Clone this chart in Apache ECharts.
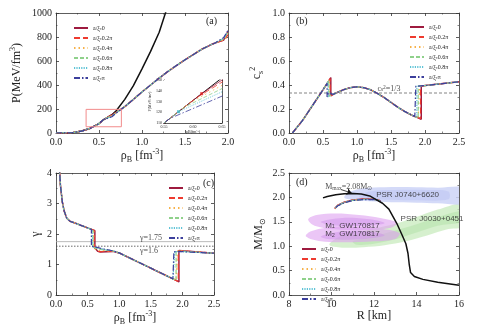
<!DOCTYPE html>
<html><head><meta charset="utf-8">
<script src="https://cdn.jsdelivr.net/npm/echarts@6/dist/echarts.min.js"></script>
<style>html,body{margin:0;padding:0;background:#fff}#c{width:496px;height:334px}</style>
</head><body><div id="c"></div>
<script>
// ---------- DATA ----------
const NAMES = ['a/ξc=0','a/ξc=0.2π','a/ξc=0.4π','a/ξc=0.6π','a/ξc=0.8π','a/ξc=π'];
const COLORS = ['#9e1b3f','#ee3b2f','#f7b24a','#8fd18b','#5ec3d6','#3c3f9c'];
const DASHES = ['solid',[6,3],[1.5,3],[4,2],[1.2,1.2],[6,2,1.5,2]];

// (a) pressure vs density
const aLow = [[0,0],[0.1,0.6],[0.2,4],[0.3,16],[0.4,40],[0.5,78],[0.55,110]];
const aMid = [
  [[0.6,131],[0.615,137.3],[0.65,150],[0.7,172]],
  [[0.6,131],[0.605,133.1],[0.65,148],[0.7,171]],
  [[0.595,128.9],[0.65,145],[0.7,170]],
  [[0.585,124.7],[0.65,142],[0.7,169]],
  [[0.575,120.5],[0.65,139],[0.7,168]],
  [[0.56,114.2],[0.65,135],[0.7,166]]
];
const aHigh = [[0.8,220],[0.9,280],[1.0,342],[1.1,400],[1.2,458],[1.3,512],[1.4,562],[1.5,610],[1.6,655],[1.7,700],[1.8,735],[1.85,750]];
const aEnd = [
  [[1.9,762],[1.95,775],[1.97,790],[2.0,850]],
  [[1.9,763],[1.94,772],[1.97,785],[2.0,820]],
  [[1.9,765],[1.93,772],[1.97,790],[2.0,835]],
  [[1.9,768],[1.95,785],[2.0,840]],
  [[1.88,762],[1.95,790],[2.0,845]],
  [[1.87,760],[1.95,795],[2.0,855]]
];
const aBlack = [[0,0],[0.1,0.6],[0.2,4],[0.3,16],[0.4,40],[0.5,78],[0.55,110],[0.6,131],[0.65,152],[0.7,185],[0.8,280],[0.9,395],[1.0,535],[1.1,680],[1.2,840],[1.3,1060]];
const aBox = [[0.35,52],[0.76,52],[0.76,197],[0.35,197],[0.35,52]];
const insetMarks = [[0.615,137.3],[0.575,120.5]];

// (b) sound speed squared
const bRise = [[0.05,0],[0.1,0.035],[0.2,0.105],[0.3,0.19],[0.4,0.275],[0.5,0.36]];
const bJump1 = [
  [[0.615,0.462],[0.615,0.31],[0.65,0.322]],
  [[0.605,0.453],[0.605,0.31],[0.65,0.322]],
  [[0.595,0.445],[0.595,0.31],[0.65,0.322]],
  [[0.585,0.436],[0.585,0.305],[0.62,0.315],[0.65,0.322]],
  [[0.575,0.427],[0.575,0.30],[0.6,0.33],[0.62,0.315],[0.65,0.322]],
  [[0.56,0.414],[0.56,0.30],[0.58,0.335],[0.6,0.32],[0.65,0.322]]
];
const bMid = [[0.7,0.335],[0.8,0.36],[0.9,0.378],[1.0,0.385],[1.1,0.378],[1.2,0.36],[1.3,0.33],[1.4,0.295],[1.5,0.255],[1.6,0.215],[1.7,0.18],[1.8,0.15],[1.85,0.138]];
const bJump2 = [
  [[1.9,0.127],[1.945,0.115],[1.945,0.39],[2.0,0.395]],
  [[1.9,0.127],[1.935,0.12],[1.935,0.39],[2.0,0.395]],
  [[1.9,0.127],[1.92,0.123],[1.92,0.39],[2.0,0.395]],
  [[1.9,0.127],[1.9,0.39],[2.0,0.395]],
  [[1.88,0.131],[1.88,0.39],[2.0,0.395]],
  [[1.865,0.134],[1.865,0.39],[2.0,0.395]]
];
const bTail = [[2.5,0.427]];
const bConformal = [[0,1/3],[2.5,1/3]];

// (c) polytropic index
const cHead = [[0.05,4.3],[0.07,3.6],[0.1,3.05],[0.13,2.75],[0.17,2.52],[0.22,2.42],[0.3,2.36],[0.4,2.28],[0.5,2.2]];
const cJump1 = [
  [[0.615,2.11],[0.615,1.55],[0.66,1.43],[0.7,1.41],[0.8,1.42],[0.9,1.43]],
  [[0.605,2.12],[0.605,1.55],[0.65,1.44],[0.7,1.42],[0.8,1.43],[0.9,1.43]],
  [[0.595,2.12],[0.595,1.56],[0.65,1.47],[0.75,1.46],[0.9,1.44]],
  [[0.585,2.13],[0.585,1.57],[0.65,1.52],[0.75,1.48],[0.9,1.45]],
  [[0.575,2.14],[0.575,1.58],[0.65,1.55],[0.75,1.5],[0.9,1.45]],
  [[0.56,2.15],[0.56,1.6],[0.65,1.56],[0.75,1.51],[0.9,1.45]]
];
const cMid = [[1.0,1.38],[1.1,1.28],[1.2,1.18],[1.3,1.08],[1.4,0.98],[1.5,0.88],[1.6,0.78],[1.7,0.68],[1.8,0.58],[1.85,0.53]];
const cJump2 = [
  [[1.9,0.48],[1.945,0.43],[1.945,1.46],[2.0,1.45]],
  [[1.9,0.48],[1.935,0.44],[1.935,1.45],[2.0,1.45]],
  [[1.9,0.48],[1.92,0.46],[1.92,1.44],[2.0,1.44]],
  [[1.9,0.48],[1.9,1.43],[2.0,1.43]],
  [[1.88,0.5],[1.88,1.42],[2.0,1.42]],
  [[1.865,0.515],[1.865,1.42],[2.0,1.42]]
];
const cTail = [[2.5,1.37]];
const cLine175 = [[0,1.75],[2.5,1.75]];
const cLine16 = [[0,1.6],[2.5,1.6]];

// (d) mass-radius
const dBlack = [[9.6,1.99],[9.8,2.02],[10.2,2.055],[10.6,2.075],[11.0,2.08],[11.4,2.07],[11.8,2.03],[12.0,1.98],[12.4,1.88],[12.7,1.76],[13.07,1.47],[13.3,1.25],[13.5,1.05],[13.6,0.85],[13.66,0.62],[13.72,0.46],[13.9,0.38],[14.3,0.32],[15.0,0.26],[15.5,0.23],[16.0,0.2]];
const dColor = [
  [[10.15,1.77],[10.3,1.84],[10.6,1.9],[11.0,1.945],[11.5,1.965],[12.0,1.96],[12.3,1.93]],
  [[10.16,1.775],[10.3,1.84],[10.6,1.9],[11.0,1.945],[11.5,1.963],[12.0,1.96],[12.3,1.93]],
  [[10.17,1.78],[10.3,1.84],[10.6,1.9],[11.0,1.943],[11.5,1.962],[12.0,1.958],[12.3,1.93]],
  [[10.18,1.78],[10.3,1.835],[10.6,1.895],[11.0,1.94],[11.5,1.96],[12.0,1.958],[12.3,1.93]],
  [[10.19,1.785],[10.3,1.835],[10.6,1.895],[11.0,1.94],[11.5,1.958],[12.0,1.955],[12.3,1.93]],
  [[10.2,1.79],[10.3,1.83],[10.6,1.89],[11.0,1.935],[11.5,1.955],[12.0,1.955],[12.3,1.93]]
];
const J0740outer = [[10.6,2.0],[10.9,2.12],[11.5,2.19],[12.5,2.21],[14,2.21],[15,2.2],[16.3,2.19],[16.3,1.88],[15,1.88],[14,1.89],[12.8,1.9],[11.8,1.92],[11.0,1.95]];
const J0740inner = [[11.3,2.02],[11.8,2.12],[13,2.15],[14.5,2.15],[15.5,2.12],[15.5,1.96],[14,1.94],[12.5,1.95],[11.6,1.97]];
const J0030outer = [[9.9,1.03],[10.3,1.18],[11,1.27],[12,1.36],[13,1.46],[14,1.6],[15,1.75],[16.3,1.86],[16.3,1.42],[15.5,1.35],[14.5,1.22],[13.5,1.1],[12.5,1.02],[11.5,0.98],[10.5,0.97]];
const J0030inner = [[11,1.1],[12,1.2],[13,1.32],[14,1.45],[15,1.6],[16.3,1.72],[16.3,1.52],[15,1.42],[14,1.28],[13,1.14],[12,1.05],[11.2,1.03]];
const GW1outer = [[8.9,1.55],[9.3,1.64],[10.2,1.67],[11.3,1.64],[12.3,1.58],[13.1,1.48],[12.8,1.38],[11.5,1.33],[10.3,1.34],[9.2,1.42]];
const GW2outer = [[8.8,1.2],[9.0,1.3],[9.8,1.38],[11.0,1.4],[12.3,1.36],[13.2,1.27],[13.0,1.15],[12.0,1.1],[10.6,1.08],[9.5,1.1]];
const GW1inner = [[9.5,1.5],[10.5,1.58],[11.8,1.55],[12.5,1.47],[11.5,1.42],[10,1.43]];
const GW2inner = [[9.5,1.2],[10.5,1.3],[11.8,1.3],[12.5,1.22],[11.5,1.15],[10,1.14]];
const dArrow = [[10.45,2.16],[10.95,2.09]];

// tick ranges
const XA = [0,2,0.5], YA = [0,1000,200];
const XB = [0,2.5,0.5], YB = [0,1,0.2];
const XC = [0,2.5,0.5], YC = [0,4,1];
const XD = [8,16,2], YD = [0,2.5,0.5];
const XI = [0.55,0.65,0.05], YI = [110,150,10];

// ---------- CHART ----------
const SERIF = '"Liberation Serif","Times New Roman",serif';
const SANS = '"Liberation Sans",Arial,sans-serif';
const rich = {
  t:{fontSize:12,fontFamily:SERIF,color:'#222',lineHeight:16},
  s:{fontSize:8,fontFamily:SERIF,color:'#222',lineHeight:8,verticalAlign:'bottom'},
  u:{fontSize:8,fontFamily:SERIF,color:'#222',lineHeight:8,verticalAlign:'top'}
};
function axPair(dir,g,r,name,gap,fmt,fs){
  fs = fs||10;
  const base = {gridIndex:g,type:'value',min:r[0],max:r[1],interval:r[2],
    splitLine:{show:false},
    axisLine:{onZero:false,lineStyle:{color:'#333',width:0.8}},
    axisTick:{inside:true,length:fs<8?2:3,lineStyle:{color:'#333',width:0.8}},
    minorTick:{show:fs>=8,splitNumber:2,length:1.5,lineStyle:{color:'#333',width:0.6}}};
  const a1 = Object.assign({},base,{position:dir==='x'?'bottom':'left',name:name,nameLocation:'middle',nameGap:gap,
    nameTextStyle:{rich:rich, fontSize:12, fontFamily:SERIF,color:'#222'},
    axisLabel:{fontFamily:SERIF,fontSize:fs,color:'#222',margin:fs<8?2:4,formatter:fmt}});
  const a2 = Object.assign({},base,{position:dir==='x'?'top':'right',axisLabel:{show:false}});
  return [a1,a2];
}
const f0 = v=>String(Math.round(v));
const f1 = v=>v.toFixed(1);
const f2 = v=>v.toFixed(2);
const xAxis = [].concat(
  axPair('x',0,XA,'{t|ρ}{s|B}{t| [fm}{u|-3}{t|]}',12,f1),
  axPair('x',1,XB,'{t|ρ}{s|B}{t| [fm}{u|-3}{t|]}',12,f1),
  axPair('x',2,XC,'{t|ρ}{s|B}{t| [fm}{u|-3}{t|]}',12,f1),
  axPair('x',3,XD,'{t|R [km]}',12,f0),
  axPair('x',4,XI,'',4,f2,4)
);
const yAxis = [].concat(
  axPair('y',0,YA,'{t|P(MeV/fm}{u|3}{t|)}',31,f0),
  axPair('y',1,YB,'{t|c}{s|s}{u|2}',24,f1),
  axPair('y',2,YC,'{t|γ}',12,f0),
  axPair('y',3,YD,'{t|M/M}{s|⊙}',22,f1),
  axPair('y',4,YI,'',8,f0,4)
);
// inset axis names (tiny)
xAxis[8].name='ρB(fm⁻³)'; xAxis[8].nameGap=5; xAxis[8].nameTextStyle={fontSize:4,fontFamily:SERIF,color:'#222'};
yAxis[8].name='P(MeV/fm³)'; yAxis[8].nameGap=8; yAxis[8].nameTextStyle={fontSize:4,fontFamily:SERIF,color:'#222'};

const grid = [
  {left:56,top:13,width:172,height:120},
  {left:289,top:13,width:170,height:120},
  {left:56,top:173,width:158,height:122},
  {left:289,top:173,width:170,height:122},
  {left:164,top:80,width:58,height:43,show:true,backgroundColor:'#fff',borderWidth:0,z:5}
];
const series = [];
function line(g,name,data,color,dash,width,z){
  series.push({type:'line',name:name,xAxisIndex:2*g,yAxisIndex:2*g,data:data,
    symbol:'none',showSymbol:false,smooth:false,clip:true,z:z||3,silent:true,
    lineStyle:{color:color,width:width||1.2,type:dash},itemStyle:{color:color}});
}
function note(g,x,y,text,style,align){
  series.push({type:'scatter',xAxisIndex:2*g,yAxisIndex:2*g,data:[[x,y]],symbolSize:0,silent:true,z:6,
    label:{show:true,position:'inside',align:align||'left',verticalAlign:'middle',formatter:text,
      fontFamily:style.ff||SERIF,fontSize:style.fs||8,color:'#222',rich:style.rich}});
}
function poly(g,polys,fill,z){
  series.push({type:'custom',xAxisIndex:2*g,yAxisIndex:2*g,data:polys.map((p,i)=>[i]),silent:true,z:z||1,clip:true,
    renderItem:function(params,api){
      const pts = polys[params.dataIndex].map(p=>api.coord(p));
      return {type:'polygon',shape:{points:pts,smooth:0.35},style:{fill:fill}};
    }});
}
// (d) shaded regions
poly(3,[J0030outer],'rgba(200,235,190,0.75)',1);
poly(3,[J0030inner],'rgba(180,225,170,0.55)',1);
poly(3,[J0740outer],'rgba(205,212,247,0.85)',1);
poly(3,[J0740inner],'rgba(190,198,243,0.6)',1);
poly(3,[GW1outer,GW2outer],'rgba(222,160,240,0.6)',1);
poly(3,[GW1inner,GW2inner],'rgba(205,140,232,0.45)',1);

// (a)
line(0,'black',aBlack,'#111','solid',1.5,2);
for(let i=0;i<6;i++){
  const d = aLow.concat(aMid[i],aHigh,aEnd[i]);
  line(0,NAMES[i],d,COLORS[i],DASHES[i],i===0?1.5:1.2,3+i*0.1);
}
line(0,'box',aBox,'#f28b8b','solid',1,4);
// inset
line(4,'black',aBlack,'#111','solid',1,10);
for(let i=0;i<6;i++){
  const d = aLow.concat(aMid[i],aHigh,aEnd[i]);
  line(4,NAMES[i],d,COLORS[i],DASHES[i],0.8,10+i*0.1);
}
series.push({type:'scatter',xAxisIndex:8,yAxisIndex:8,data:insetMarks,symbol:'rect',symbolSize:3,z:11,silent:true,
  itemStyle:{color:function(p){return p.dataIndex===0?'#e32020':'#3fb5c8';}}});
// (b)
line(1,'cs',bConformal,'#666',[3,2],0.8,2);
for(let i=0;i<6;i++){
  line(1,NAMES[i],bRise.concat(bJump1[i],bMid,bJump2[i],bTail),COLORS[i],DASHES[i],i===0?1.5:1.2,3+i*0.1);
}
// (c)
line(2,'g175',cLine175,'#aaa','solid',0.8,2);
line(2,'g16',cLine16,'#444',[1.5,1.5],0.8,2);
for(let i=0;i<6;i++){
  line(2,NAMES[i],cHead.concat(cJump1[i],cMid,cJump2[i],cTail),COLORS[i],DASHES[i],i===0?1.5:1.2,3+i*0.1);
}
// (d)
for(let i=0;i<6;i++){
  line(3,NAMES[i],dColor[i],COLORS[i],DASHES[i],i===0?1.5:1.2,3+i*0.1);
}
line(3,'black',dBlack,'#111','solid',1.5,4);
series.push({type:'line',xAxisIndex:6,yAxisIndex:6,data:[],silent:true,
  markLine:{silent:true,symbol:['none','arrow'],symbolSize:5,label:{show:false},
    lineStyle:{color:'#111',width:0.8,type:'solid'},
    data:[[{coord:dArrow[0]},{coord:dArrow[1]}]]}});

// annotations
const srich = {
  t:{fontSize:8,fontFamily:SERIF,color:'#222'},
  s:{fontSize:5.5,fontFamily:SERIF,color:'#222',verticalAlign:'bottom',lineHeight:6},
  u:{fontSize:5.5,fontFamily:SERIF,color:'#222',verticalAlign:'top',lineHeight:6},
  T:{fontSize:8,fontFamily:SANS,color:'#222'},
  S:{fontSize:5.5,fontFamily:SANS,color:'#222',verticalAlign:'bottom',lineHeight:6}
};
note(1,1.3,0.37,'{t|c}{s|s}{u|2}{t|=1/3}',{rich:srich});
note(2,1.33,1.88,'{t|γ=1.75}',{rich:srich});
note(2,1.33,1.43,'{t|γ=1.6}',{rich:srich});
note(3,9.7,2.21,'{t|M}{s|max}{t|=2.08M}{s|⊙}',{rich:srich});
note(3,12.1,2.06,'{T|PSR J0740+6620}',{rich:srich});
note(3,13.25,1.57,'{T|PSR J0030+0451}',{rich:srich});
note(3,9.7,1.42,'{T|M}{S|1}{T|  GW170817}',{rich:srich});
note(3,9.7,1.25,'{T|M}{S|2}{T|  GW170817}',{rich:srich});

function legend(left,top){
  return {show:true,orient:'vertical',left:left,top:top,itemWidth:14,itemHeight:5,itemGap:4,
    data:NAMES.slice(),selectedMode:false,
    itemStyle:{opacity:0,borderWidth:0},
    textStyle:{fontSize:6,fontFamily:SERIF,color:'#222',
      rich:{t:{fontSize:6,fontFamily:SERIF,color:'#222'},s:{fontSize:4,fontFamily:SERIF,color:'#222',verticalAlign:'bottom',lineHeight:5}}},
    formatter:function(n){return '{t|a/ξ}{s|c}{t|'+n.slice(5)+'}';}};
}
const graphic = [
  {type:'text',left:206,top:16,style:{text:'(a)',font:'10px '+SERIF,fill:'#222'},z:20},
  {type:'text',left:296,top:16,style:{text:'(b)',font:'10px '+SERIF,fill:'#222'},z:20},
  {type:'text',left:203,top:178,style:{text:'(c)',font:'10px '+SERIF,fill:'#222'},z:20},
  {type:'text',left:296,top:177,style:{text:'(d)',font:'10px '+SERIF,fill:'#222'},z:20}
];
const chart = echarts.init(document.getElementById('c'),null,{renderer:'canvas'});
chart.setOption({animation:false,backgroundColor:'#fff',grid:grid,xAxis:xAxis,yAxis:yAxis,series:series,
  legend:[legend(68,20),legend(404,19),legend(163,180),legend(296,241)],graphic:graphic});
</script></body></html>
